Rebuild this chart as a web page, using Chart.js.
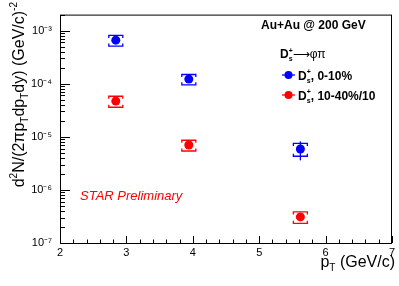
<!DOCTYPE html>
<html>
<head>
<meta charset="utf-8">
<script src="https://cdn.jsdelivr.net/npm/chart.js@4.4.1/dist/chart.umd.min.js"></script>
<style>
  html, body { margin: 0; padding: 0; background: #ffffff; }
  #wrap { width: 399px; height: 286px; position: relative; }
</style>
</head>
<body>
<div id="wrap"><canvas id="spectrum" width="399" height="286"></canvas></div>
<script>
// ---- data ----
const ptValues = [2.84, 3.94, 5.62];

const central010 = [6.6e-4, 1.22e-4, 5.9e-6];
const stat010 = [0.5e-4, 0.08e-4, 2.3e-6];
const sys010 = [1.5e-4, 0.27e-4, 1.6e-6];

const central1040 = [4.7e-5, 7.0e-6, 3.1e-7];
const stat1040 = [0.3e-5, 0.5e-6, 0.3e-7];
const sys1040 = [1.1e-5, 1.6e-6, 0.75e-7];

const xTickValues = [2, 3, 4, 5, 6, 7];
const yTickValues = [1e-7, 1e-6, 1e-5, 1e-4, 1e-3];
const yTickLabels = ["10\u207B\u2077", "10\u207B\u2076", "10\u207B\u2075", "10\u207B\u2074", "10\u207B\u00B3"];

const FONT = "'Liberation Sans', Arial, Helvetica, sans-serif";

// draw text pieces with sub/superscripts, returns width
function drawRich(ctx, parts, x, y, size, weight, measureOnly) {
    let cx = x;
    for (let i = 0; i < parts.length; i++) {
        const p = parts[i];
        const w = p.bold !== undefined ? (p.bold ? "bold " : "") : weight;
        if (p.sub || p.sup) {
            const small = Math.round(size * 0.62);
            ctx.font = w + small + "px " + FONT;
            let adv = 0;
            if (p.sup) {
                if (!measureOnly) ctx.fillText(p.sup, cx, y - size * 0.42);
                adv = Math.max(adv, ctx.measureText(p.sup).width);
            }
            if (p.sub) {
                if (!measureOnly) ctx.fillText(p.sub, cx, y + size * 0.28);
                adv = Math.max(adv, ctx.measureText(p.sub).width);
            }
            cx += adv;
        } else {
            ctx.font = w + size + "px " + FONT;
            if (!measureOnly) ctx.fillText(p.t, cx, y);
            cx += ctx.measureText(p.t).width;
        }
    }
    return cx - x;
}

const decorPlugin = {
    id: "decor",
    afterDatasetsDraw(chart) {
        const ctx = chart.ctx;
        const xs = chart.scales.x;
        const ys = chart.scales.y;
        const area = chart.chartArea;

        ctx.save();
        // frame
        ctx.strokeStyle = "#000";
        ctx.lineWidth = 1;
        ctx.strokeRect(area.left + 0.5, area.top + 0.5, area.right - area.left - 1, area.bottom - area.top);

        // x ticks (inward)
        ctx.beginPath();
        for (let v = 2; v <= 7.0001; v += 0.2) {
            const px = Math.round(xs.getPixelForValue(v)) + 0.5;
            const major = Math.abs(v - Math.round(v)) < 1e-6;
            ctx.moveTo(px, area.bottom);
            ctx.lineTo(px, area.bottom - (major ? 7 : 3.5));
        }
        // y ticks (inward), log minors
        for (let d = -7; d <= -3; d++) {
            for (let m = 1; m <= 9; m++) {
                const v = m * Math.pow(10, d);
                if (v > ys.max) break;
                const py = Math.round(ys.getPixelForValue(v)) + 0.5;
                ctx.moveTo(area.left, py);
                ctx.lineTo(area.left + (m === 1 ? 10 : 5), py);
            }
        }
        ctx.stroke();

        // error bars
        const series = [
            { c: central010, st: stat010, sy: sys010, col: "#0000ff" },
            { c: central1040, st: stat1040, sy: sys1040, col: "#ff0000" }
        ];
        series.forEach(function (s) {
            ctx.strokeStyle = s.col;
            ctx.lineWidth = 1.3;
            for (let i = 0; i < ptValues.length; i++) {
                const px = xs.getPixelForValue(ptValues[i]);
                const yHi = ys.getPixelForValue(s.c[i] + s.st[i]);
                const yLo = ys.getPixelForValue(s.c[i] - s.st[i]);
                ctx.beginPath();
                ctx.moveTo(px, yHi);
                ctx.lineTo(px, yLo);
                ctx.stroke();
                const sHi = ys.getPixelForValue(s.c[i] + s.sy[i]);
                const sLo = ys.getPixelForValue(s.c[i] - s.sy[i]);
                ctx.beginPath();
                ctx.moveTo(px - 7, sHi + 2.5);
                ctx.lineTo(px - 7, sHi);
                ctx.lineTo(px + 7, sHi);
                ctx.lineTo(px + 7, sHi + 2.5);
                ctx.moveTo(px - 7, sLo - 2.5);
                ctx.lineTo(px - 7, sLo);
                ctx.lineTo(px + 7, sLo);
                ctx.lineTo(px + 7, sLo - 2.5);
                ctx.stroke();
            }
        });

        // text annotations
        ctx.fillStyle = "#000";
        ctx.textBaseline = "alphabetic";
        ctx.font = "bold 12px " + FONT;
        ctx.fillText("Au+Au @ 200 GeV", 261, 29);

        drawRich(ctx, [{ t: "D", bold: true }, { sub: "s", sup: "+", bold: true }, { t: "\u27F6\u03C6\u03C0", bold: false }], 280, 58, 12, "");

        const legendRows = [
            { col: "#0000ff", y: 75, label: ", 0-10%" },
            { col: "#ff0000", y: 95, label: ", 10-40%/10" }
        ];
        legendRows.forEach(function (r) {
            ctx.strokeStyle = r.col;
            ctx.fillStyle = r.col;
            ctx.lineWidth = 1.3;
            ctx.beginPath();
            ctx.moveTo(282, r.y);
            ctx.lineTo(295, r.y);
            ctx.stroke();
            ctx.beginPath();
            ctx.arc(288.5, r.y, 4, 0, Math.PI * 2);
            ctx.fill();
            ctx.fillStyle = "#000";
            drawRich(ctx, [{ t: "D" }, { sub: "s", sup: "+" }, { t: r.label }], 298, r.y + 4.5, 12, "bold ");
        });

        ctx.fillStyle = "#ff0000";
        ctx.font = "italic 13px " + FONT;
        ctx.fillText("STAR Preliminary", 80, 200);

        // x title
        ctx.fillStyle = "#000";
        const xParts = [{ t: "p" }, { sub: "T" }, { t: " (GeV/c)" }];
        const xw = drawRich(ctx, xParts, 0, 0, 16, "", true);
        drawRich(ctx, xParts, 395 - xw, 267, 16, "");

        // y title (rotated)
        const yParts = [{ t: "d" }, { sup: "2" }, { t: "N/(2\u03C0p" }, { sub: "T" }, { t: "dp" }, { sub: "T" },
            { t: "dy) (GeV/c)" }, { sup: "-2" }];
        const yw = drawRich(ctx, yParts, 0, 0, 16, "", true);
        ctx.translate(24, 2 + yw);
        ctx.rotate(-Math.PI / 2);
        drawRich(ctx, yParts, 0, 0, 16, "");
        ctx.restore();
    }
};

const ctx = document.getElementById("spectrum").getContext("2d");
new Chart(ctx, {
    type: "scatter",
    data: {
        datasets: [
            {
                label: "0-10%",
                data: ptValues.map(function (x, i) { return { x: x, y: central010[i] }; }),
                backgroundColor: "#0000ff",
                borderColor: "#0000ff",
                pointRadius: 4.5,
                pointBorderWidth: 0
            },
            {
                label: "10-40%/10",
                data: ptValues.map(function (x, i) { return { x: x, y: central1040[i] }; }),
                backgroundColor: "#ff0000",
                borderColor: "#ff0000",
                pointRadius: 4.5,
                pointBorderWidth: 0
            }
        ]
    },
    options: {
        responsive: false,
        animation: false,
        devicePixelRatio: 1,
        layout: { padding: { top: 7, right: 7, left: 0, bottom: 0 } },
        plugins: {
            legend: { display: false },
            tooltip: { enabled: false }
        },
        scales: {
            x: {
                type: "linear",
                min: 2,
                max: 7,
                afterBuildTicks: function (scale) {
                    scale.ticks = xTickValues.map(function (v) { return { value: v }; });
                },
                afterFit: function (scale) { scale.height = 43; },
                grid: { display: false, drawTicks: false },
                border: { display: false },
                ticks: {
                    padding: 3,
                    maxRotation: 0,
                    color: "#000",
                    font: { family: FONT, size: 11 },
                    callback: function (v) { return String(v); }
                }
            },
            y: {
                type: "logarithmic",
                min: 1e-7,
                max: 2e-3,
                afterBuildTicks: function (scale) {
                    scale.ticks = yTickValues.map(function (v) { return { value: v }; });
                },
                afterFit: function (scale) { scale.width = 60; },
                grid: { display: false, drawTicks: false },
                border: { display: false },
                ticks: {
                    padding: 8,
                    color: "#000",
                    font: { family: FONT, size: 11 },
                    callback: function (v) {
                        const idx = yTickValues.indexOf(v);
                        return idx >= 0 ? yTickLabels[idx] : "";
                    }
                }
            }
        }
    },
    plugins: [decorPlugin]
});
</script>
</body>
</html>
